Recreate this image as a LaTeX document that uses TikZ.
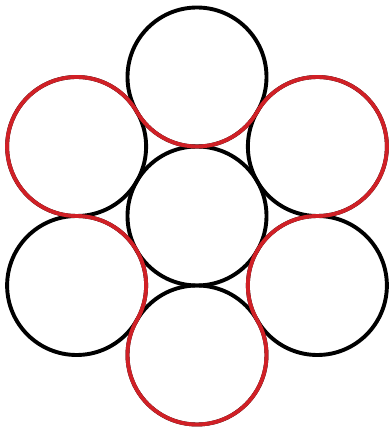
\documentclass[tikz,border=0pt]{standalone}
\usetikzlibrary{calc}
\definecolor{ringred}{RGB}{208,32,38}
\begin{document}
\begin{tikzpicture}[x=1pt,y=1pt,
  ring/.style={draw=black,line width=3.9pt},
  redloop/.style={draw=ringred,line width=3.9pt,line join=round}]
\useasboundingbox (0,0) rectangle (389,428);
\def\R{69.5}
\coordinate (c)  at (197,212);
\coordinate (t)  at ($(c)+(90:139)$);
\coordinate (ul) at ($(c)+(150:139)$);
\coordinate (ll) at ($(c)+(210:139)$);
\coordinate (b)  at ($(c)+(270:139)$);
\coordinate (lr) at ($(c)+(330:139)$);
\coordinate (ur) at ($(c)+(30:139)$);
\foreach \n in {c,t,ul,ll,b,lr,ur}
  \draw[ring] (\n) circle[radius=\R];
\draw[redloop] ($(t)+(330:\R)$)
  arc[start angle=330,end angle=210,radius=\R]
  arc[start angle=30,end angle=270,radius=\R]
  arc[start angle=90,end angle=-30,radius=\R]
  arc[start angle=150,end angle=390,radius=\R]
  arc[start angle=210,end angle=90,radius=\R]
  arc[start angle=270,end angle=510,radius=\R]
  -- cycle;
\end{tikzpicture}
\end{document}
